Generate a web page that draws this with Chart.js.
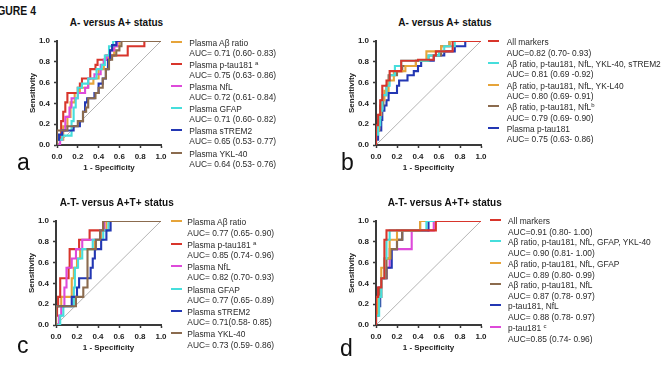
<!DOCTYPE html>
<html><head><meta charset="utf-8">
<script src="https://cdn.jsdelivr.net/npm/chart.js@4.4.1/dist/chart.umd.min.js"></script>
<style>
html,body{margin:0;padding:0;background:#fff;}
body{width:669px;height:382px;overflow:hidden;position:relative;font-family:"Liberation Sans",Arial,sans-serif;}
.abs{position:absolute;white-space:nowrap;}
.title{font-weight:bold;font-size:10px;color:#111;transform:translate(-50%,-50%);line-height:10px;}
.lbl{font-size:23px;line-height:23px;color:#111;}
.lg{font-size:8.4px;line-height:9px;color:#2a2a2a;transform:translateY(-50%);}
.lg sup{font-size:6px;line-height:0;vertical-align:3px;}
.mk{height:2px;width:11px;}
canvas{position:absolute;}
#fig{font-weight:bold;font-size:13px;line-height:13px;color:#111;right:633px;top:4px;transform:scaleX(0.8);transform-origin:right center;}
</style></head><body>
<div id="fig" class="abs">FIGURE 4</div>
<div id="root"></div>
<script>
// ---------- data ----------
const TICKS = [0, 0.2, 0.4, 0.6, 0.8, 1.0];
const DIAG = [[0,0],[1,1]];

// Panel a: A- versus A+ status (points are [1-specificity, sensitivity])
const A_ABETA = [[0,0],[0,0.05],[0.06,0.05],[0.06,0.18],[0.1,0.18],[0.1,0.27],[0.13,0.27],[0.13,0.41],[0.17,0.41],[0.17,0.5],[0.22,0.5],[0.22,0.55],[0.3,0.55],[0.3,0.59],[0.35,0.59],[0.35,0.64],[0.4,0.64],[0.4,0.73],[0.45,0.73],[0.45,0.82],[0.5,0.82],[0.5,0.86],[0.55,0.86],[0.55,0.95],[0.6,0.95],[0.6,1],[1,1]];
const A_PTAU = [[0,0],[0,0.05],[0.04,0.05],[0.04,0.23],[0.06,0.23],[0.06,0.32],[0.08,0.32],[0.08,0.41],[0.1,0.41],[0.1,0.5],[0.2,0.5],[0.2,0.55],[0.22,0.55],[0.22,0.59],[0.24,0.59],[0.24,0.64],[0.32,0.64],[0.32,0.73],[0.37,0.73],[0.37,0.77],[0.39,0.77],[0.39,0.82],[0.47,0.82],[0.47,0.86],[0.68,0.86],[0.68,0.95],[0.84,0.95],[0.84,1],[1,1]];
const A_NFL = [[0,0],[0.03,0],[0.03,0.05],[0.05,0.05],[0.05,0.14],[0.08,0.14],[0.08,0.27],[0.12,0.27],[0.12,0.36],[0.14,0.36],[0.14,0.45],[0.2,0.45],[0.2,0.5],[0.27,0.5],[0.27,0.55],[0.3,0.55],[0.3,0.64],[0.36,0.64],[0.36,0.68],[0.42,0.68],[0.42,0.77],[0.45,0.77],[0.45,0.82],[0.48,0.82],[0.48,0.86],[0.51,0.86],[0.51,0.91],[0.55,0.91],[0.55,0.95],[0.58,0.95],[0.58,1],[1,1]];
const A_GFAP = [[0,0],[0,0.05],[0.05,0.05],[0.05,0.09],[0.14,0.09],[0.14,0.23],[0.16,0.23],[0.16,0.36],[0.18,0.36],[0.18,0.45],[0.2,0.45],[0.2,0.55],[0.24,0.55],[0.24,0.59],[0.3,0.59],[0.3,0.64],[0.38,0.64],[0.38,0.73],[0.43,0.73],[0.43,0.77],[0.46,0.77],[0.46,0.86],[0.5,0.86],[0.5,0.95],[0.54,0.95],[0.54,1],[1,1]];
const A_STREM2 = [[0,0],[0,0.05],[0.02,0.05],[0.02,0.1],[0.05,0.1],[0.05,0.14],[0.16,0.14],[0.16,0.18],[0.22,0.18],[0.22,0.23],[0.25,0.23],[0.25,0.32],[0.27,0.32],[0.27,0.41],[0.29,0.41],[0.29,0.45],[0.36,0.45],[0.36,0.5],[0.4,0.5],[0.4,0.59],[0.44,0.59],[0.44,0.64],[0.47,0.64],[0.47,0.73],[0.49,0.73],[0.49,0.82],[0.51,0.82],[0.51,0.91],[0.53,0.91],[0.53,0.96],[0.57,0.96],[0.57,1],[1,1]];
const A_YKL40 = [[0,0],[0,0.14],[0.1,0.14],[0.1,0.18],[0.2,0.18],[0.2,0.23],[0.25,0.23],[0.25,0.32],[0.28,0.32],[0.28,0.36],[0.3,0.36],[0.3,0.45],[0.37,0.45],[0.37,0.5],[0.4,0.5],[0.4,0.55],[0.44,0.55],[0.44,0.64],[0.47,0.64],[0.47,0.73],[0.5,0.73],[0.5,0.82],[0.53,0.82],[0.53,0.86],[0.57,0.86],[0.57,0.91],[0.6,0.91],[0.6,0.95],[0.62,0.95],[0.62,1],[1,1]];

// Panel b: A- versus A+ status, combined models
const B_ALL = [[0,0],[0,0.19],[0.02,0.19],[0.02,0.29],[0.04,0.29],[0.04,0.43],[0.06,0.43],[0.06,0.57],[0.1,0.57],[0.1,0.62],[0.13,0.62],[0.13,0.71],[0.24,0.71],[0.24,0.81],[0.4,0.81],[0.4,0.82],[0.55,0.82],[0.55,0.86],[0.57,0.86],[0.57,0.9],[0.73,0.9],[0.73,1],[1,1]];
const B_FIVE = [[0,0],[0,0.1],[0.02,0.1],[0.02,0.19],[0.04,0.19],[0.04,0.33],[0.06,0.33],[0.06,0.48],[0.1,0.48],[0.1,0.57],[0.13,0.57],[0.13,0.67],[0.18,0.67],[0.18,0.76],[0.24,0.76],[0.24,0.81],[0.5,0.81],[0.5,0.86],[0.6,0.86],[0.6,0.9],[0.65,0.9],[0.65,0.95],[0.75,0.95],[0.75,1],[1,1]];
const B_FOUR = [[0,0],[0,0.14],[0.03,0.14],[0.03,0.29],[0.05,0.29],[0.05,0.43],[0.08,0.43],[0.08,0.52],[0.12,0.52],[0.12,0.62],[0.17,0.62],[0.17,0.71],[0.28,0.71],[0.28,0.76],[0.38,0.76],[0.38,0.81],[0.48,0.81],[0.48,0.9],[0.62,0.9],[0.62,0.95],[0.7,0.95],[0.7,1],[1,1]];
const B_THREE = [[0,0],[0,0.14],[0.02,0.14],[0.02,0.24],[0.04,0.24],[0.04,0.38],[0.07,0.38],[0.07,0.48],[0.1,0.48],[0.1,0.57],[0.12,0.57],[0.12,0.67],[0.2,0.67],[0.2,0.71],[0.25,0.71],[0.25,0.76],[0.38,0.76],[0.38,0.81],[0.5,0.81],[0.5,0.86],[0.62,0.86],[0.62,0.95],[0.7,0.95],[0.7,1],[1,1]];
const B_PTAU = [[0,0],[0,0.05],[0.02,0.05],[0.02,0.14],[0.05,0.14],[0.05,0.24],[0.06,0.24],[0.06,0.33],[0.08,0.33],[0.08,0.38],[0.1,0.38],[0.1,0.43],[0.12,0.43],[0.12,0.5],[0.2,0.5],[0.2,0.57],[0.22,0.57],[0.22,0.62],[0.3,0.62],[0.3,0.67],[0.36,0.67],[0.36,0.71],[0.4,0.71],[0.4,0.76],[0.43,0.76],[0.43,0.81],[0.55,0.81],[0.55,0.86],[0.65,0.86],[0.65,0.9],[0.75,0.9],[0.75,0.95],[0.85,0.95],[0.85,1],[1,1]];

// Panel c: A-T- versus A+T+ status
const C_ABETA = [[0,0],[0,0.18],[0.05,0.18],[0.05,0.27],[0.15,0.27],[0.15,0.45],[0.17,0.45],[0.17,0.55],[0.2,0.55],[0.2,0.64],[0.23,0.64],[0.23,0.73],[0.37,0.73],[0.37,0.82],[0.43,0.82],[0.43,0.91],[0.48,0.91],[0.48,1],[1,1]];
const C_PTAU = [[0,0],[0,0.09],[0.01,0.09],[0.01,0.18],[0.02,0.18],[0.02,0.27],[0.04,0.27],[0.04,0.45],[0.12,0.45],[0.12,0.55],[0.13,0.55],[0.13,0.73],[0.22,0.73],[0.22,0.82],[0.32,0.82],[0.32,0.91],[0.45,0.91],[0.45,1],[1,1]];
const C_NFL = [[0,0],[0.03,0],[0.03,0.09],[0.05,0.09],[0.05,0.18],[0.08,0.18],[0.08,0.36],[0.1,0.36],[0.1,0.55],[0.15,0.55],[0.15,0.64],[0.19,0.64],[0.19,0.73],[0.25,0.73],[0.25,0.82],[0.42,0.82],[0.42,0.91],[0.46,0.91],[0.46,1],[1,1]];
const C_GFAP = [[0,0],[0.04,0],[0.04,0.09],[0.07,0.09],[0.07,0.18],[0.17,0.18],[0.17,0.36],[0.18,0.36],[0.18,0.55],[0.21,0.55],[0.21,0.64],[0.25,0.64],[0.25,0.73],[0.35,0.73],[0.35,0.82],[0.45,0.82],[0.45,0.91],[0.5,0.91],[0.5,1],[1,1]];
const C_STREM2 = [[0,0],[0,0.18],[0.15,0.18],[0.15,0.27],[0.2,0.27],[0.2,0.36],[0.22,0.36],[0.22,0.45],[0.33,0.45],[0.33,0.55],[0.35,0.55],[0.35,0.64],[0.37,0.64],[0.37,0.73],[0.43,0.73],[0.43,0.82],[0.48,0.82],[0.48,0.91],[0.52,0.91],[0.52,1],[1,1]];
const C_YKL40 = [[0,0],[0,0.18],[0.19,0.18],[0.19,0.27],[0.26,0.27],[0.26,0.36],[0.3,0.36],[0.3,0.73],[0.38,0.73],[0.38,0.82],[0.42,0.82],[0.42,0.91],[0.45,0.91],[0.45,1],[1,1]];

// Panel d: A-T- versus A+T+ status, combined models
const D_ALL = [[0,0],[0,0.27],[0.02,0.27],[0.02,0.36],[0.05,0.36],[0.05,0.45],[0.08,0.45],[0.08,0.82],[0.1,0.82],[0.1,0.91],[0.57,0.91],[0.57,1],[1,1]];
const D_FIVE = [[0,0],[0,0.09],[0.03,0.09],[0.03,0.27],[0.05,0.27],[0.05,0.45],[0.08,0.45],[0.08,0.64],[0.1,0.64],[0.1,0.82],[0.13,0.82],[0.13,0.91],[0.48,0.91],[0.48,1],[1,1]];
const D_FOUR = [[0,0],[0,0.09],[0.02,0.09],[0.02,0.27],[0.05,0.27],[0.05,0.55],[0.08,0.55],[0.08,0.64],[0.13,0.64],[0.13,0.82],[0.2,0.82],[0.2,0.91],[0.42,0.91],[0.42,1],[1,1]];
const D_THREE = [[0,0],[0,0.18],[0.03,0.18],[0.03,0.36],[0.05,0.36],[0.05,0.45],[0.1,0.45],[0.1,0.64],[0.14,0.64],[0.14,0.73],[0.2,0.73],[0.2,0.82],[0.25,0.82],[0.25,0.91],[0.42,0.91],[0.42,1],[1,1]];
const D_TWO = [[0,0],[0,0.09],[0.02,0.09],[0.02,0.18],[0.04,0.18],[0.04,0.27],[0.05,0.27],[0.05,0.45],[0.1,0.45],[0.1,0.55],[0.15,0.55],[0.15,0.73],[0.2,0.73],[0.2,0.82],[0.25,0.82],[0.25,0.91],[0.5,0.91],[0.5,1],[1,1]];
const D_PTAU = [[0,0],[0,0.18],[0.02,0.18],[0.02,0.36],[0.05,0.36],[0.05,0.45],[0.1,0.45],[0.1,0.55],[0.13,0.55],[0.13,0.73],[0.34,0.73],[0.34,0.91],[0.55,0.91],[0.55,1],[1,1]];

// legend texts
const A_NAMES = ["Plasma A\u03b2 ratio", "Plasma p-tau181 <sup>a</sup>", "Plasma NfL", "Plasma GFAP", "Plasma sTREM2", "Plasma YKL-40"];
const A_AUCS = ["AUC= 0.71 (0.60- 0.83)", "AUC= 0.75 (0.63- 0.86)", "AUC= 0.72 (0.61- 0.84)", "AUC= 0.71 (0.60- 0.82)", "AUC= 0.65 (0.53- 0.77)", "AUC= 0.64 (0.53- 0.76)"];
const B_NAMES = ["All markers", "A\u03b2 ratio, p-tau181, NfL, YKL-40, sTREM2", "A\u03b2 ratio, p-tau181, NfL, YK-L40", "A\u03b2 ratio, p-tau181, NfL<sup>b</sup>", "Plasma p-tau181"];
const B_AUCS = ["AUC=0.82 (0.70- 0.93)", "AUC= 0.81 (0.69 -0.92)", "AUC= 0.80 (0.69- 0.91)", "AUC= 0.79 (0.69- 0.90)", "AUC= 0.75 (0.63- 0.86)"];
const C_NAMES = ["Plasma A\u03b2 ratio", "Plasma p-tau181 <sup>a</sup>", "Plasma NfL", "Plasma GFAP", "Plasma sTREM2", "Plasma YKL-40"];
const C_AUCS = ["AUC= 0.77 (0.65- 0.90)", "AUC= 0.85 (0.74- 0.96)", "AUC= 0.82 (0.70- 0.93)", "AUC= 0.77 (0.65- 0.89)", "AUC= 0.71(0.58- 0.85)", "AUC= 0.73 (0.59- 0.86)"];
const D_NAMES = ["All markers", "A\u03b2 ratio, p-tau181, NfL, GFAP, YKL-40", "A\u03b2 ratio, p-tau181, NfL, GFAP", "A\u03b2 ratio, p-tau181, NfL", "p-tau181, NfL", "p-tau181 <sup>c</sup>"];
const D_AUCS = ["AUC=0.91 (0.80- 1.00)", "AUC= 0.90 (0.81- 1.00)", "AUC= 0.89 (0.80- 0.99)", "AUC= 0.87 (0.78- 0.97)", "AUC= 0.88 (0.78- 0.97)", "AUC=0.85 (0.74- 0.96)"];

const TITLES = ["A- versus A+ status", "A- versus A+ status", "A-T- versus A+T+ status", "A-T- versus A+T+ status"];
const LETTERS = ["a", "b", "c", "d"];

// ---------- styles ----------
const COL = {orange:'#E6A43A', red:'#D8352B', magenta:'#DE4ADA', cyan:'#46DEDC', blue:'#2337B3', brown:'#8B6B4E'};
const FONT = '"Liberation Sans", Arial, sans-serif';

const PANELS = [
  {area:[57,41,161,145], titleXY:[116.5,23], letterXY:[17,150.5], lgX:189.3, mkX:171, lgY0:42.5, lgSp:22.2, lgLo:10, topLast:true,
   series:[[A_ABETA,COL.orange],[A_PTAU,COL.red],[A_NFL,COL.magenta],[A_GFAP,COL.cyan],[A_STREM2,COL.blue],[A_YKL40,COL.brown]], names:A_NAMES, aucs:A_AUCS},
  {area:[376,41,481,145], titleXY:[445,23], letterXY:[341,150.5], lgX:506.7, mkX:488, lgY0:42.3, lgSp:21.6, lgLo:10.4, topLast:false,
   series:[[B_ALL,COL.red],[B_FIVE,COL.cyan],[B_FOUR,COL.orange],[B_THREE,COL.brown],[B_PTAU,COL.blue]], names:B_NAMES, aucs:B_AUCS},
  {area:[56,221,161,325], titleXY:[116.7,203], letterXY:[17,333.5], lgX:187.3, mkX:171, lgY0:222.3, lgSp:22.4, lgLo:10.3, topLast:true,
   series:[[C_ABETA,COL.orange],[C_PTAU,COL.red],[C_NFL,COL.magenta],[C_GFAP,COL.cyan],[C_STREM2,COL.blue],[C_YKL40,COL.brown]], names:C_NAMES, aucs:C_AUCS},
  {area:[376,221,481,325], titleXY:[444.7,203], letterXY:[340,337], lgX:508, mkX:490, lgY0:221, lgSp:21.3, lgLo:11, topLast:false,
   series:[[D_ALL,COL.red],[D_FIVE,COL.cyan],[D_FOUR,COL.orange],[D_THREE,COL.brown],[D_TWO,COL.blue],[D_PTAU,COL.magenta]], names:D_NAMES, aucs:D_AUCS}
];

const root = document.getElementById('root');
function addDiv(cls, html, x, y) {
  const d = document.createElement('div');
  d.className = 'abs ' + cls;
  d.innerHTML = html;
  d.style.left = x + 'px';
  d.style.top = y + 'px';
  root.appendChild(d);
  return d;
}

PANELS.forEach((p, pi) => {
  const [L, T, R, B] = p.area;
  const cv = document.createElement('canvas');
  const W = (R - L) + 52, H = (B - T) + 47;
  cv.width = W; cv.height = H;
  cv.style.left = (L - 40) + 'px';
  cv.style.top = (T - 12) + 'px';
  cv.style.width = W + 'px'; cv.style.height = H + 'px';
  root.appendChild(cv);

  const n = p.series.length;
  const datasets = p.series.map((s, i) => ({
    data: s[0].map(pt => ({x: pt[0], y: pt[1]})),
    showLine: true, borderColor: s[1], borderWidth: 2.1, pointRadius: 0,
    fill: false, tension: 0, order: p.topLast ? (n - i) : (i + 1)
  }));
  datasets.push({data: DIAG.map(pt => ({x: pt[0], y: pt[1]})), showLine: true,
    borderColor: '#ababab', borderWidth: 0.9, pointRadius: 0, order: 100});

  const tickFont = {size: 8, weight: 'bold', family: FONT};
  const common = {
    type: 'linear', min: 0, max: 1,
    afterBuildTicks: s => { s.ticks = TICKS.map(v => ({value: v})); },
    ticks: {callback: v => Number(v).toFixed(1), font: tickFont, color: '#222', padding: 4, maxRotation: 0, autoSkip: false},
    grid: {display: true, drawOnChartArea: false, drawTicks: true, tickLength: 3, tickWidth: 1.5, tickColor: '#3a3a3a'},
    border: {display: true, color: '#3a3a3a', width: 2}
  };
  new Chart(cv.getContext('2d'), {
    type: 'scatter',
    data: {datasets},
    options: {
      responsive: false, animation: false, devicePixelRatio: 1,
      layout: {padding: {left: 0, top: 12, right: 12, bottom: 0}},
      plugins: {legend: {display: false}, tooltip: {enabled: false}},
      scales: {
        x: Object.assign({}, common, {position: 'bottom', afterFit: s => { s.height = 35; },
          title: {display: true, text: '1 - Specificity', font: {size: 8, weight: 'bold', family: FONT}, color: '#222', padding: {top: 0, bottom: 7}}}),
        y: Object.assign({}, common, {position: 'left', afterFit: s => { s.width = 40; },
          title: {display: true, text: 'Sensitivity', font: {size: 8, weight: 'bold', family: FONT}, color: '#222', padding: {top: 11, bottom: 0}}})
      }
    }
  });

  addDiv('title', TITLES[pi], p.titleXY[0], p.titleXY[1]);
  addDiv('lbl', LETTERS[pi], p.letterXY[0], p.letterXY[1]);

  p.series.forEach((s, i) => {
    const y1 = p.lgY0 + i * p.lgSp;
    const mk = addDiv('mk', '', p.mkX, y1 - 2);
    mk.style.background = s[1];
    addDiv('lg', p.names[i], p.lgX, y1);
    addDiv('lg', p.aucs[i], p.lgX, y1 + p.lgLo);
  });
});
</script>
</body></html>
